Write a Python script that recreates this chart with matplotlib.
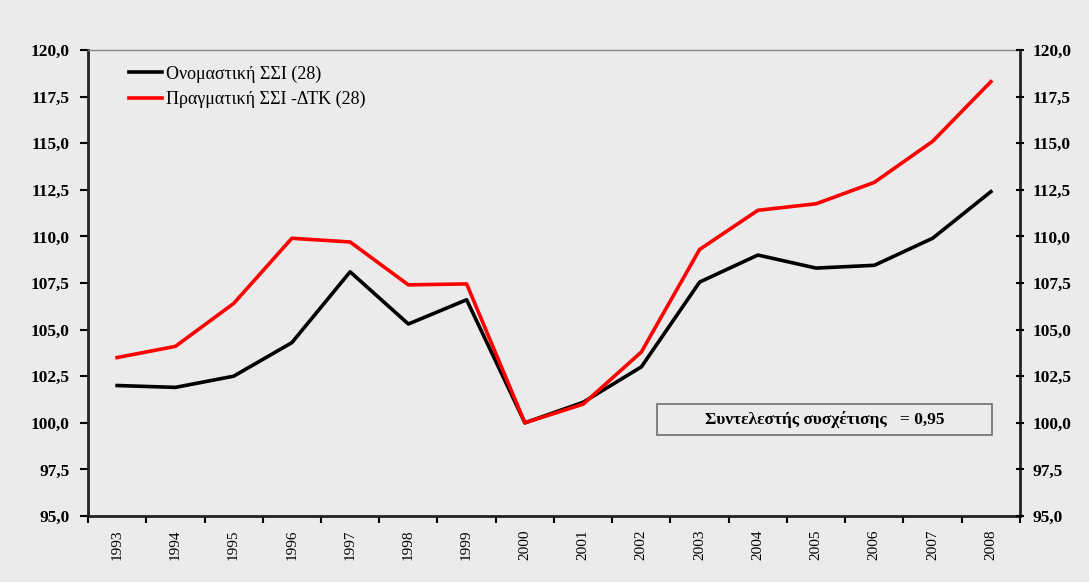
import matplotlib
matplotlib.use("Agg")
import matplotlib.pyplot as plt
from matplotlib.patches import Rectangle

years = [str(y) for y in range(1993, 2009)]
nominal = [102.0, 101.9, 102.5, 104.3, 108.1, 105.3, 106.6, 100.0, 101.1, 103.0,
           107.55, 109.0, 108.3, 108.45, 109.9, 112.4]
real = [103.5, 104.1, 106.4, 109.9, 109.7, 107.4, 107.45, 100.0, 101.0, 103.8,
        109.3, 111.4, 111.75, 112.9, 115.1, 118.3]
yticks = [95.0, 97.5, 100.0, 102.5, 105.0, 107.5, 110.0, 112.5, 115.0, 117.5, 120.0]
ytick_labels = [f"{v:.1f}".replace(".", ",") for v in yticks]
label_nom = "Ονομαστική ΣΣΙ (28)"
label_real = "Πραγματική ΣΣΙ -ΔΤΚ (28)"
note = "Συντελεστής συσχέτισης   = 0,95"

plt.rcParams['font.family'] = ['Liberation Serif', 'DejaVu Serif']
bg = "#ebebeb"

W, H = 1089, 582
fig = plt.figure(figsize=(W / 100, H / 100), dpi=100, facecolor=bg)
ax = fig.add_axes([88 / W, 1 - 516 / H, (1020 - 88) / W, (516 - 50) / H])
ax.set_facecolor(bg)

x = list(range(len(years)))
ax.plot(x, nominal, color="black", lw=2.6, label=label_nom)
ax.plot(x, real, color="#ff0000", lw=2.6, label=label_real)

ax.set_xlim(-0.5, len(years) - 0.5)
ax.set_ylim(95, 120)
ax.set_yticks(yticks)
ax.set_yticklabels(ytick_labels, fontsize=12.5, fontweight="bold")
ax.set_xticks([i - 0.5 for i in range(len(years) + 1)], minor=False)
ax.set_xticklabels([])
ax.set_xticks(x, minor=True)
ax.set_xticklabels(years, minor=True, rotation=90, fontsize=11)
ax.tick_params(axis="x", which="minor", length=0, pad=10)
ax.tick_params(axis="x", which="major", length=5, width=1.5, direction="out")
ax.tick_params(axis="y", length=6, width=1.5, direction="out", pad=7)

for s in ["left", "bottom", "right"]:
    ax.spines[s].set_linewidth(2)
    ax.spines[s].set_color("#222222")
ax.spines["top"].set_linewidth(1)
ax.spines["top"].set_color("#888888")

ax2 = ax.twinx()
ax2.set_ylim(95, 120)
ax2.set_yticks(yticks)
ax2.set_yticklabels(ytick_labels, fontsize=12.5, fontweight="bold")
ax2.tick_params(axis="y", length=6, width=1.5, direction="inout", pad=6)
for s in ax2.spines.values():
    s.set_visible(False)

ax.legend(loc="upper left", bbox_to_anchor=((130 - 88 - 8) / (1020 - 88), 1 - 8 / 466),
          frameon=False, fontsize=13, handlelength=1.8, handletextpad=0.25,
          labelspacing=0.45, borderaxespad=0)

# correlation note box (axes-fraction coordinates)
bx0, bx1 = (657 - 88) / 932, (992 - 88) / 932
by0, by1 = (516 - 435) / 466, (516 - 404) / 466
ax.add_patch(Rectangle((bx0, by0), bx1 - bx0, by1 - by0, transform=ax.transAxes,
                       facecolor=bg, edgecolor="#777777", lw=1.3, zorder=3))
ax.text((bx0 + bx1) / 2, (by0 + by1) / 2, note, transform=ax.transAxes,
        ha="center", va="center", fontsize=12.5, fontweight="bold", zorder=4)

fig.savefig("out.png", dpi=100, facecolor=bg)
